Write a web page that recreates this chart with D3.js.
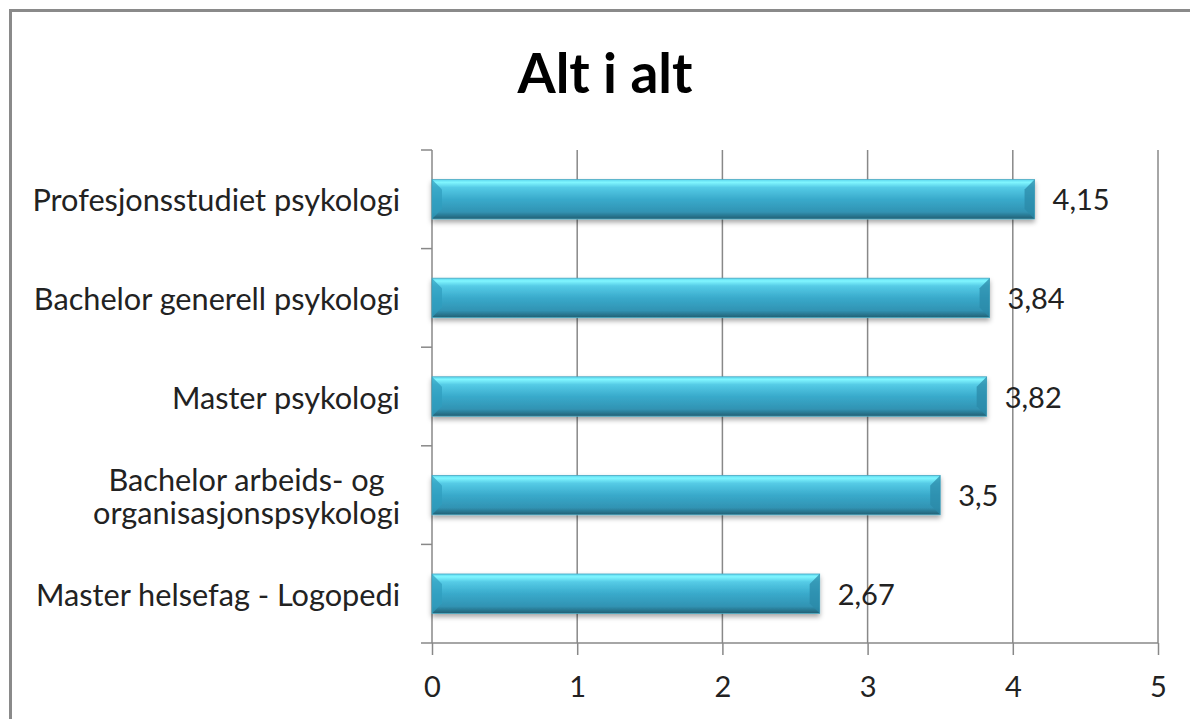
<!DOCTYPE html>
<html>
<head>
<meta charset="utf-8">
<script src="https://cdn.jsdelivr.net/npm/d3@7"></script>
<style>
  body { margin: 0; background: #fff; }
  svg { display: block; font-family: Lato, "Open Sans", sans-serif; }
</style>
</head>
<body>
<div id="host"></div>
<script>
// Data
const title = "Alt i alt";
const categories = [
    "Profesjonsstudiet psykologi",
    "Bachelor generell psykologi",
    "Master psykologi",
    "Bachelor arbeids- og\norganisasjonspsykologi",
    "Master helsefag - Logopedi"
];
const values = [4.15, 3.84, 3.82, 3.5, 2.67];
const xTicks = [0, 1, 2, 3, 4, 5];

// Layout constants
const width = 1190;
const height = 719;
const plot = { left: 432, right: 1158, top: 150, bottom: 643 };
const gridColor = "#888";
const textColor = "#222";

const fmt = v => String(v).replace(".", ",");

const svg = d3.select("#host").append("svg")
    .attr("width", width)
    .attr("height", height);

// Bar gradient and shadow
const defs = svg.append("defs");
const grad = defs.append("linearGradient")
    .attr("id", "barGrad")
    .attr("x1", 0).attr("y1", 0).attr("x2", 0).attr("y2", 1);
[
    [0, "#5bd6ee"], [0.07, "#80f6ff"], [0.2, "#55cbe6"],
    [0.5, "#39aacb"], [0.82, "#3193b3"], [1, "#225f73"]
].forEach(([o, c]) => grad.append("stop").attr("offset", o).attr("stop-color", c));

const shadow = defs.append("filter").attr("id", "shadow")
    .attr("x", "-5%").attr("y", "-30%").attr("width", "110%").attr("height", "170%");
shadow.append("feDropShadow")
    .attr("dx", 0).attr("dy", 3).attr("stdDeviation", 2.5)
    .attr("flood-color", "#000").attr("flood-opacity", 0.35);

// Frame
svg.append("rect")
    .attr("x", 10.5).attr("y", 10.5)
    .attr("width", 1400).attr("height", 900)
    .attr("fill", "#fff")
    .attr("stroke", "#8a8a8a")
    .attr("stroke-width", 3);

// Title
svg.append("text")
    .attr("x", 605).attr("y", 93)
    .attr("text-anchor", "middle")
    .attr("font-weight", "bold")
    .attr("font-size", 55)
    .attr("fill", "#000")
    .text(title);

// Scales
const x = d3.scaleLinear().domain([0, 5]).range([plot.left, plot.right]);
const y = d3.scaleBand().domain(categories)
    .range([plot.top, plot.bottom])
    .paddingInner(0.6).paddingOuter(0.3);

// Vertical gridlines
svg.append("g").selectAll("line")
    .data(xTicks.filter(t => t > 0))
    .join("line")
    .attr("x1", d => x(d)).attr("x2", d => x(d))
    .attr("y1", plot.top).attr("y2", plot.bottom)
    .attr("stroke", gridColor).attr("stroke-width", 1.5);

// X axis
const xAxis = svg.append("g")
    .attr("transform", `translate(0,${plot.bottom})`)
    .call(d3.axisBottom(x).tickValues(xTicks).tickSize(12).tickPadding(21).tickFormat(d => d));
xAxis.select(".domain").remove();
xAxis.append("line")
    .attr("x1", plot.left - 11).attr("x2", plot.right)
    .attr("stroke", gridColor).attr("stroke-width", 1.5);
xAxis.selectAll(".tick line").attr("stroke", gridColor).attr("stroke-width", 1.5);
xAxis.selectAll(".tick text")
    .attr("fill", textColor)
    .attr("font-size", 29)
    .attr("font-family", "Lato, sans-serif");

// Y axis line and boundary ticks
svg.append("line")
    .attr("x1", plot.left).attr("x2", plot.left)
    .attr("y1", plot.top).attr("y2", plot.bottom)
    .attr("stroke", gridColor).attr("stroke-width", 1.5);
const step = y.step();
const bounds = d3.range(categories.length).map(i => plot.top + i * step);
svg.append("g").selectAll("line")
    .data(bounds)
    .join("line")
    .attr("x1", plot.left - 11).attr("x2", plot.left)
    .attr("y1", d => d).attr("y2", d => d)
    .attr("stroke", gridColor).attr("stroke-width", 1.5);

// Bars
const bars = svg.append("g").selectAll("g")
    .data(categories.map((c, i) => ({ cat: c, value: values[i] })))
    .join("g");

bars.append("rect")
    .attr("x", x(0))
    .attr("y", d => y(d.cat))
    .attr("width", d => x(d.value) - x(0))
    .attr("height", y.bandwidth())
    .attr("fill", "url(#barGrad)")
    .attr("stroke", "#4aa9c2")
    .attr("stroke-width", 0.8)
    .attr("filter", "url(#shadow)");

// Bevelled ends
const bev = 10;
bars.append("path")
    .attr("d", d => {
        const x0 = x(0), y0 = y(d.cat), y1 = y0 + y.bandwidth();
        return `M${x0},${y0}L${x0 + bev},${y0 + bev}L${x0 + bev},${y1 - bev}L${x0},${y1}Z`;
    })
    .attr("fill", "#2f9dbd").attr("opacity", 0.7);
bars.append("path")
    .attr("d", d => {
        const x1 = x(d.value), y0 = y(d.cat), y1 = y0 + y.bandwidth();
        return `M${x1},${y0}L${x1 - bev},${y0 + bev}L${x1 - bev},${y1 - bev}L${x1},${y1}Z`;
    })
    .attr("fill", "#2b8aa8").attr("opacity", 0.75);

// Value labels
bars.append("text")
    .attr("x", d => x(d.value) + 18)
    .attr("y", d => y(d.cat) + y.bandwidth() / 2)
    .attr("dy", "0.38em")
    .attr("font-size", 29)
    .attr("fill", textColor)
    .text(d => fmt(d.value));

// Category labels: block right-aligned, lines centred within it
const labelRight = 400;
const labels = svg.append("g").selectAll("text")
    .data(categories)
    .join("text")
    .attr("font-size", 30.7)
    .attr("fill", textColor)
    .attr("text-anchor", "middle");

labels.each(function (d) {
    const lines = d.split("\n");
    const t = d3.select(this);
    const cy = y(d) + y.bandwidth() / 2;
    const lineH = 33;
    lines.forEach((ln, i) => {
        t.append("tspan")
            .attr("dy", i === 0 ? `${(-(lines.length - 1) / 2) * lineH}` : lineH)
            .text(ln);
    });
    const spans = t.selectAll("tspan").nodes();
    const maxW = d3.max(spans, s => s.getComputedTextLength());
    const cx = labelRight - maxW / 2;
    t.attr("y", cy).attr("dominant-baseline", "central");
    t.selectAll("tspan").attr("x", cx);
});
</script>
</body>
</html>
